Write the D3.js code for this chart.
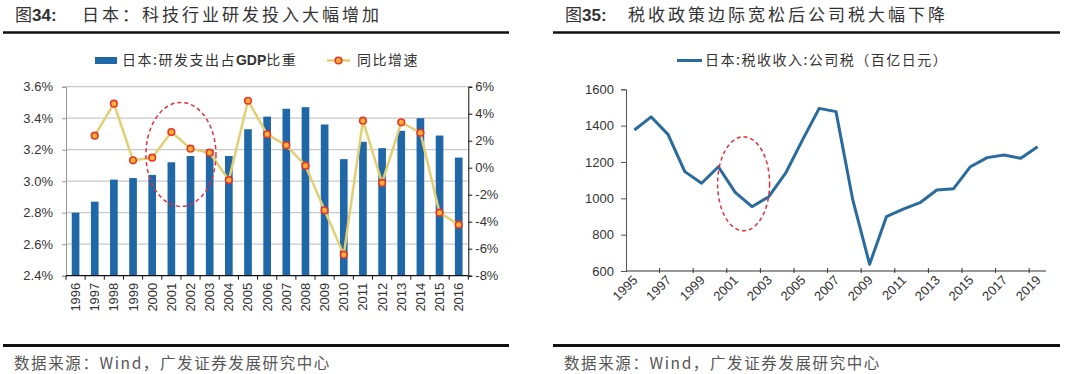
<!DOCTYPE html>
<html>
<head>
<meta charset="utf-8">
<script src="https://cdn.jsdelivr.net/npm/d3@7"></script>
<style>
  html, body { margin: 0; padding: 0; background: #fff; }
  svg { display: block; }
</style>
</head>
<body>
<svg id="chart" width="1080" height="374"></svg>
<script>
// ---------------- Data ----------------
const years1 = ["1996","1997","1998","1999","2000","2001","2002","2003","2004","2005","2006","2007","2008","2009","2010","2011","2012","2013","2014","2015","2016"];
const rdShare = [2.80,2.87,3.01,3.02,3.04,3.12,3.16,3.20,3.16,3.33,3.41,3.46,3.47,3.36,3.14,3.25,3.21,3.32,3.40,3.29,3.15];
const rdYoY = [null,2.37,4.74,0.55,0.74,2.64,1.41,1.11,-0.91,4.96,2.47,1.66,0.15,-3.16,-6.44,3.48,-1.13,3.36,2.59,-3.33,-4.22];
const leftTicks = [2.4,2.6,2.8,3.0,3.2,3.4,3.6];
const rightTicks = [-8,-6,-4,-2,0,2,4,6];

const years2 = ["1995","1996","1997","1998","1999","2000","2001","2002","2003","2004","2005","2006","2007","2008","2009","2010","2011","2012","2013","2014","2015","2016","2017","2018","2019"];
const corpTax = [1376,1448,1352,1147,1083,1174,1033,954,1009,1138,1320,1495,1477,991,637,899,941,976,1046,1053,1174,1224,1238,1220,1284];
const taxTicks = [600,800,1000,1200,1400,1600];

const title1a = "图34:";
const title1b = "日本：科技行业研发投入大幅增加";
const title2a = "图35:";
const title2b = "税收政策边际宽松后公司税大幅下降";
const legend1a = "日本:研发支出占GDP比重";
const legend1b = "同比增速";
const legend2 = "日本:税收收入:公司税（百亿日元）";
const source = "数据来源：Wind，广发证券发展研究中心";

// ---------------- Styles ----------------
const CJK = "'Noto Sans CJK SC', 'Noto Sans', sans-serif";
const LAT = "'Liberation Sans', Arial, sans-serif";
const barColor = "#1f67a7";
const lineYellow = "#e3cf73";
const markerStroke = "#e5362c";
const markerFill = "#f9b233";
const blueLine = "#2a6b9e";
const textColor = "#333";

const svg = d3.select("#chart");

// ---------------- Headers / footers ----------------
function header(x0, x1, tx, tx2, ta, tb) {
  const t = svg.append("text").attr("y", 21).attr("fill", textColor);
  t.append("tspan").attr("x", tx).attr("font-family", CJK).attr("font-size", 17).text(ta.slice(0,1));
  t.append("tspan").attr("font-family", LAT).attr("font-weight", "bold").attr("font-size", 17).text(ta.slice(1));
  svg.append("text").attr("x", tx2).attr("y", 21).attr("fill", textColor)
    .attr("font-family", CJK).attr("font-size", 17).attr("letter-spacing", "3px").text(tb);
  svg.append("line").attr("x1", x0).attr("x2", x1).attr("y1", 32.5).attr("y2", 32.5)
    .attr("stroke", "#111").attr("stroke-width", 2.5);
  svg.append("line").attr("x1", x0).attr("x2", x1).attr("y1", 345.5).attr("y2", 345.5)
    .attr("stroke", "#111").attr("stroke-width", 3);
  svg.append("text").attr("x", tx - 1).attr("y", 369).attr("fill", "#555")
    .attr("font-family", CJK).attr("font-size", 15.5).attr("letter-spacing", "1.6px").text(source);
}
header(3, 509, 15, 82, title1a, title1b);
header(553, 1060, 565, 628, title2a, title2b);

// ---------------- Left chart ----------------
const L = {x0: 66, x1: 468.3, y0: 86.7, y1: 275.7};
const xL = d3.scaleBand().domain(years1).range([L.x0, L.x1]).paddingInner(0.6).paddingOuter(0.3);
const yL = d3.scaleLinear().domain([2.4, 3.6]).range([L.y1, L.y0]);
const yR = d3.scaleLinear().domain([-8, 6]).range([L.y1, L.y0]);
const stepL = xL.step();
const cxL = d => xL(d) + xL.bandwidth() / 2;

// gridlines
svg.append("g").selectAll("line").data(leftTicks.filter(t => t > 2.4)).join("line")
  .attr("x1", L.x0).attr("x2", L.x1).attr("y1", d => yL(d)).attr("y2", d => yL(d))
  .attr("stroke", "#c9c9c9").attr("stroke-width", 1.2);

// bars
svg.append("g").selectAll("rect").data(years1).join("rect")
  .attr("x", d => xL(d)).attr("width", xL.bandwidth())
  .attr("y", (d, i) => yL(rdShare[i])).attr("height", (d, i) => yL(2.4) - yL(rdShare[i]))
  .attr("fill", barColor);

// left axis
const gLA = svg.append("g").attr("transform", `translate(${L.x0},0)`)
  .call(d3.axisLeft(yL).tickValues(leftTicks).tickSize(4).tickFormat(d => d.toFixed(1) + "%").tickPadding(9));
gLA.select(".domain").attr("stroke", "#999");
gLA.selectAll(".tick line").attr("stroke", "#999");
gLA.selectAll("text").attr("font-family", LAT).attr("font-size", 13).attr("fill", textColor);

// right axis
const gRA = svg.append("g").attr("transform", `translate(${L.x1},0)`)
  .call(d3.axisRight(yR).tickValues(rightTicks).tickSize(4).tickFormat(d => d + "%").tickPadding(3));
gRA.select(".domain").attr("stroke", "#111");
gRA.selectAll(".tick line").attr("stroke", "#111");
gRA.selectAll("text").attr("font-family", LAT).attr("font-size", 13).attr("fill", textColor);

// bottom axis
svg.append("line").attr("x1", L.x0).attr("x2", L.x1).attr("y1", yL(2.4)).attr("y2", yL(2.4))
  .attr("stroke", "#111").attr("stroke-width", 1.2);
svg.append("g").selectAll("line").data(years1.concat(["__end"])).join("line")
  .attr("x1", (d, i) => L.x0 + i * stepL).attr("x2", (d, i) => L.x0 + i * stepL)
  .attr("y1", yL(2.4)).attr("y2", yL(2.4) + 4).attr("stroke", "#111");
svg.append("g").selectAll("text").data(years1).join("text")
  .attr("transform", d => `translate(${cxL(d) + 4.5},${yL(2.4) + 7}) rotate(-90)`)
  .attr("text-anchor", "end")
  .attr("font-family", LAT).attr("font-size", 13).attr("fill", textColor)
  .text(d => d);

// yoy line
const lineL = d3.line().defined(d => d[1] !== null).x(d => cxL(d[0])).y(d => yR(d[1]));
const yoyData = years1.map((y, i) => [y, rdYoY[i]]);
svg.append("path").datum(yoyData).attr("d", lineL)
  .attr("fill", "none").attr("stroke", lineYellow).attr("stroke-width", 2.5).attr("stroke-linejoin", "round");
svg.append("g").selectAll("circle").data(yoyData.filter(d => d[1] !== null)).join("circle")
  .attr("cx", d => cxL(d[0])).attr("cy", d => yR(d[1])).attr("r", 3.3)
  .attr("fill", markerFill).attr("stroke", markerStroke).attr("stroke-width", 1.6);

// ellipse annotation (left)
svg.append("ellipse")
  .attr("cx", (cxL("2001") + cxL("2002")) / 2).attr("cy", yL(3.17))
  .attr("rx", 35).attr("ry", 52)
  .attr("fill", "none").attr("stroke", "#e0303a").attr("stroke-width", 1.5).attr("stroke-dasharray", "4,3");

// legend (left)
svg.append("rect").attr("x", 95).attr("y", 57).attr("width", 22).attr("height", 7).attr("fill", barColor);
const lt = svg.append("text").attr("x", 122).attr("y", 65).attr("fill", textColor)
  .attr("font-family", CJK).attr("font-size", 14).attr("letter-spacing", "1.5px");
lt.append("tspan").text("日本:研发支出占");
lt.append("tspan").attr("font-family", LAT).attr("font-weight", "bold").attr("letter-spacing", "0px").text("GDP");
lt.append("tspan").text("比重");
svg.append("line").attr("x1", 327).attr("x2", 350).attr("y1", 60.5).attr("y2", 60.5)
  .attr("stroke", lineYellow).attr("stroke-width", 2.5);
svg.append("circle").attr("cx", 338.5).attr("cy", 60.5).attr("r", 3.3)
  .attr("fill", markerFill).attr("stroke", markerStroke).attr("stroke-width", 1.6);
svg.append("text").attr("x", 357).attr("y", 65).attr("fill", textColor)
  .attr("font-family", CJK).attr("font-size", 14).attr("letter-spacing", "1.5px").text(legend1b);

// ---------------- Right chart ----------------
const R = {x0: 626, x1: 1046, y0: 89.3, y1: 271};
const xR = d3.scaleBand().domain(years2).range([R.x0, R.x1]);
const yT = d3.scaleLinear().domain([600, 1600]).range([R.y1, R.y0]);
const stepR = xR.step();
const cxR = d => xR(d) + xR.bandwidth() / 2;

const gTA = svg.append("g").attr("transform", `translate(${R.x0},0)`)
  .call(d3.axisLeft(yT).tickValues(taxTicks).tickSize(5).tickPadding(7).tickFormat(d3.format("d")));
gTA.select(".domain").attr("stroke", "#555");
gTA.selectAll(".tick line").attr("stroke", "#555");
gTA.selectAll("text").attr("font-family", LAT).attr("font-size", 13).attr("fill", textColor);

svg.append("line").attr("x1", R.x0).attr("x2", R.x1).attr("y1", R.y1).attr("y2", R.y1)
  .attr("stroke", "#333").attr("stroke-width", 1.2);
svg.append("g").selectAll("line").data(years2.filter((d, i) => i % 2 === 0 && i > 0)).join("line")
  .attr("x1", d => xR(d)).attr("x2", d => xR(d))
  .attr("y1", R.y1 - 3).attr("y2", R.y1 + 2).attr("stroke", "#333");
svg.append("g").selectAll("text").data(years2.filter((d, i) => i % 2 === 0)).join("text")
  .attr("transform", d => `translate(${cxR(d) + 4},${R.y1 + 10}) rotate(-45)`)
  .attr("text-anchor", "end")
  .attr("font-family", LAT).attr("font-size", 13).attr("fill", textColor)
  .text(d => d);

const lineR = d3.line().x((d, i) => cxR(years2[i])).y(d => yT(d));
svg.append("path").datum(corpTax).attr("d", lineR)
  .attr("fill", "none").attr("stroke", blueLine).attr("stroke-width", 3).attr("stroke-linejoin", "round");

// ellipse annotation (right)
svg.append("ellipse")
  .attr("cx", xR("2002")).attr("cy", yT(1080))
  .attr("rx", 26).attr("ry", 47)
  .attr("fill", "none").attr("stroke", "#e0303a").attr("stroke-width", 1.5).attr("stroke-dasharray", "4,3");

// legend (right)
svg.append("line").attr("x1", 677).attr("x2", 702).attr("y1", 60.5).attr("y2", 60.5)
  .attr("stroke", blueLine).attr("stroke-width", 3);
svg.append("text").attr("x", 705).attr("y", 65).attr("fill", textColor)
  .attr("font-family", CJK).attr("font-size", 14).attr("letter-spacing", "1.5px").text(legend2);
</script>
</body>
</html>
